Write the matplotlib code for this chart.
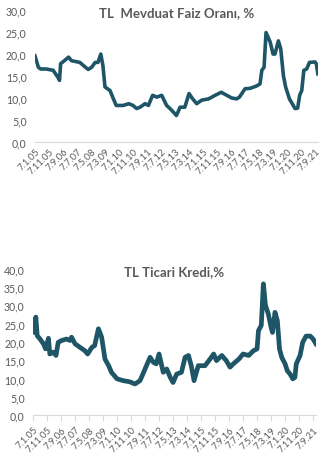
import matplotlib.pyplot as plt
import numpy as np

# month index since Jan 2005 -> value
dep_month = [0, 1, 2.4, 4, 8, 13, 17, 17.5, 18.3, 21, 24, 26, 32, 36, 38, 40.5, 43, 45, 47, 48.5,
             50, 53.6, 56, 58, 63, 67, 70, 72.6, 75, 78.6, 81, 84, 87, 90.5, 94, 96.4, 98.8, 101,
             103.6, 107, 110, 112.6, 115.5, 119, 124, 128.6, 133, 137, 140.5, 144, 146, 150, 153.6,
             158, 160.7, 162, 163.6, 165, 168, 170, 171.4, 173.8, 175.5, 177.4, 179, 181.7, 183,
             185.7, 187.6, 189, 190.5, 192, 194, 196, 200, 201, 202]
dep_rate = [19.6, 18.5, 17.0, 16.6, 16.6, 16.3, 14.4, 14.0, 17.8, 18.5, 19.3, 18.5, 18.1, 17.0, 16.5,
            17.0, 18.1, 18.1, 20.0, 17.4, 12.5, 11.7, 9.8, 8.3, 8.3, 8.7, 8.3, 7.6, 7.9, 8.7, 8.3,
            10.6, 10.2, 10.6, 8.3, 7.6, 6.8, 6.0, 7.9, 7.9, 11.0, 9.8, 8.7, 9.5, 9.8, 10.6, 11.3,
            10.6, 10.0, 9.8, 10.2, 12.1, 12.2, 12.7, 13.2, 16.3, 17.0, 24.9, 22.7, 20.0, 20.0, 23.0,
            21.2, 15.1, 12.5, 9.8, 9.1, 7.6, 7.7, 10.6, 11.7, 16.3, 16.6, 18.1, 18.2, 17.7, 15.5]

loan_month = [0, 1, 2, 3, 5, 7.4, 9, 11, 12, 14.5, 16.4, 18, 20.5, 24, 26.4, 27.5, 30, 33.6, 37, 39,
              42, 44, 46.7, 49, 51.4, 54, 56, 60, 64.5, 69, 72.8, 76.4, 79, 81, 83.6, 86, 88, 90,
              93, 95.5, 98, 100, 102.6, 106, 108.6, 111, 113, 115, 118, 122.8, 126.4, 129, 131,
              134.8, 138, 140.7, 143, 147, 150, 154, 157.4, 160, 161, 163, 164.5, 166, 168, 170,
              171, 172.8, 174.5, 176, 177.6, 180, 181.6, 183.6, 185.5, 187, 188, 190.7, 192.6, 195,
              198, 200, 202]
loan_rate = [26.0, 22.6, 26.8, 21.7, 20.8, 19.5, 18.1, 21.0, 16.7, 17.2, 16.3, 19.9, 20.4, 20.8, 20.4,
             21.3, 19.5, 18.5, 17.6, 16.7, 18.5, 19.0, 23.6, 21.3, 15.3, 13.5, 11.7, 9.9, 9.4, 9.1,
             8.5, 9.4, 11.7, 13.5, 15.8, 14.4, 14.0, 16.7, 11.7, 12.6, 10.3, 8.9, 11.2, 11.7, 15.8,
             16.3, 13.5, 9.4, 13.5, 13.5, 15.3, 16.7, 14.9, 16.3, 14.9, 13.1, 14.0, 15.3, 16.7, 16.3,
             17.6, 18.1, 23.1, 24.5, 35.9, 30.0, 27.7, 24.0, 22.6, 28.1, 25.8, 18.1, 15.8, 14.0, 12.1,
             11.2, 9.9, 10.3, 14.0, 16.3, 19.9, 21.6, 21.6, 20.8, 19.5]

tick_months = list(range(0, 201, 10))
tick_labels = ['7.1.05', '7.11.05', '7.9.06', '7.7.07', '7.5.08', '7.3.09', '7.1.10', '7.11.10',
               '7.9.11', '7.7.12', '7.5.13', '7.3.14', '7.1.15', '7.11.15', '7.9.16', '7.7.17',
               '7.5.18', '7.3.19', '7.1.20', '7.11.20', '7.9.21']

plt.rcParams['font.family'] = ['Lato', 'DejaVu Sans']
grey = '#595959'
line_col = '#1e5667'

fig = plt.figure(figsize=(3.27, 4.64), dpi=100)
ax1 = fig.add_axes([0.107, 0.692, 0.865, 0.284])
ax2 = fig.add_axes([0.101, 0.1034, 0.865, 0.315])


def style(ax, ymax, title, ticks_on, ty):
    ax.set_xlim(0, 202)
    ax.set_ylim(0, ymax)
    yt = np.arange(0, ymax + 0.1, 5)
    ax.set_yticks(yt)
    ax.set_yticklabels([('%.1f' % v).replace('.', ',') for v in yt])
    ax.set_xticks(tick_months)
    ax.set_xticklabels(tick_labels, rotation=45, ha='right', rotation_mode='anchor')
    for s in ['top', 'right', 'left']:
        ax.spines[s].set_visible(False)
    ax.spines['bottom'].set_color('#d9d9d9')
    ax.tick_params(axis='y', length=0, labelsize=7.6, labelcolor=grey, pad=6)
    ax.tick_params(axis='x', labelsize=6.8, labelcolor=grey, color='#d9d9d9',
                   length=4 if ticks_on else 0, pad=3)
    ax.set_title(title, fontsize=9.5, fontweight='bold', color=grey, y=ty)


ax1.plot(dep_month, dep_rate, color=line_col, lw=2.6, solid_joinstyle='round')
style(ax1, 30, 'TL  Mevduat Faiz Oranı, %', False, 0.89)

ax2.plot(loan_month, loan_rate, color=line_col, lw=3.4, solid_joinstyle='round')
style(ax2, 40, 'TL Ticari Kredi,%', True, 0.9)

fig.savefig('out.png', dpi=100)
